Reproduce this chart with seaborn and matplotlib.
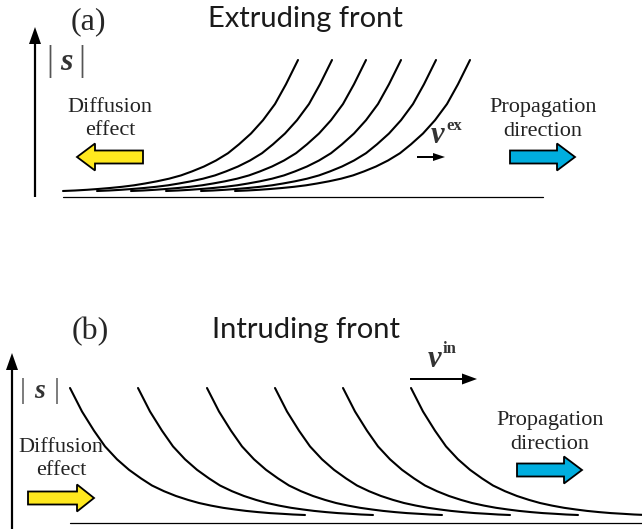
import pandas as pd
import matplotlib.pyplot as plt
from matplotlib.patches import FancyArrow
import seaborn as sns

# profile shape of |s| along x (pixel offsets from the front start)
profile_dx = [0, 12, 24, 35, 47, 59, 71, 82, 94, 106, 118, 129, 141, 153, 165, 176, 188, 200, 212, 223, 235]
extrude_h = [0, 0.5, 1.2, 2.0, 3.0, 4.2, 5.7, 7.5, 9.7, 12.3, 15.6, 19.6, 24.5, 30.5, 37.8, 46.7, 57.5, 70.8, 87.0, 106.8, 131.0]
intrude_h = [127, 103.5, 84.3, 68.6, 55.7, 45.2, 36.6, 29.5, 23.8, 19.0, 15.1, 12.0, 9.4, 7.2, 5.5, 4.1, 2.9, 1.9, 1.2, 0.5, 0]

# start positions of the successive fronts
fronts_a = [63, 97, 131, 166, 201, 235]
fronts_b = [70, 138, 207, 275, 343, 411]

rows = []
for i, x0 in enumerate(fronts_a):
    for dx, h in zip(profile_dx, extrude_h):
        rows.append({'panel': 'a', 'front': i, 'x': x0 + dx, 'y': 191 - h})
for i, x0 in enumerate(fronts_b):
    for dx, h in zip(profile_dx, intrude_h):
        rows.append({'panel': 'b', 'front': i, 'x': x0 + dx, 'y': 515 - h})
df = pd.DataFrame(rows)

sns.set_style('white')
plt.rcParams['font.family'] = ['Liberation Serif', 'DejaVu Serif']

fig = plt.figure(figsize=(6.42, 5.29), dpi=100)
ax = fig.add_axes([0, 0, 1, 1])
ax.set_xlim(0, 642)
ax.set_ylim(529, 0)
ax.axis('off')

sns.lineplot(data=df[df.panel == 'a'], x='x', y='y', units='front', estimator=None,
             sort=False, color='black', lw=1.5, ax=ax)
sns.lineplot(data=df[df.panel == 'b'], x='x', y='y', units='front', estimator=None,
             sort=False, color='black', lw=1.5, ax=ax)

# base lines
ax.plot([63, 543], [197, 197], color='black', lw=0.9)
ax.plot([70, 642], [523, 523], color='black', lw=0.9)


def arrow(x, y, dx, w, hw, hl, fc, ec='black', lw=0.0, vertical=False):
    if vertical:
        a = FancyArrow(x, y, 0, dx, width=w, head_width=hw, head_length=hl,
                       length_includes_head=True, fc=fc, ec=ec, lw=lw)
    else:
        a = FancyArrow(x, y, dx, 0, width=w, head_width=hw, head_length=hl,
                       length_includes_head=True, fc=fc, ec=ec, lw=lw)
    ax.add_patch(a)


# |s| axes
arrow(35, 197, -170, 2.2, 12, 17, 'black', vertical=True)
arrow(12, 529, -176, 2.2, 12, 17, 'black', vertical=True)

yellow = '#FFE81E'
blue = '#00AEDF'
# block arrows
arrow(143, 157, -66, 13, 27, 18, yellow, lw=1.3)
arrow(510, 157, 65, 13, 27, 18, blue, lw=1.3)
arrow(28, 498, 66, 13, 27, 17, yellow, lw=1.3)
arrow(517, 470, 65, 13, 27, 18, blue, lw=1.3)

# velocity arrows
arrow(417, 157, 28, 2.0, 8, 12, 'black')
arrow(410, 379, 67, 2.0, 11, 15, 'black')

# titles
ax.text(88, 29, '(a)', fontsize=23, ha='center', va='baseline')
ax.text(90, 339, '(b)', fontsize=23, ha='center', va='baseline')
ax.text(305, 27, 'Extruding front', fontsize=21, family=['Lato', 'DejaVu Sans'],
        ha='center', va='baseline', color='#1a1a1a')
ax.text(306, 338, 'Intruding front', fontsize=21, family=['Lato', 'DejaVu Sans'],
        ha='center', va='baseline', color='#1a1a1a')

# |s| labels
grey = '#333333'
for xb, xs, yb, fb, fs in [(50, 66, 70, 25, 23), (23, 40, 398, 21, 20)]:
    ax.text(xb, yb, '|', fontsize=fb, ha='center', va='baseline', color='#555555')
    ax.text(xb + 2 * (xs - xb), yb, '|', fontsize=fb, ha='center', va='baseline', color='#555555')
    ax.text(xs, yb, 's', fontsize=fs, ha='center', va='baseline', color=grey,
            style='italic', weight='bold')

# velocities
ax.text(437, 143, 'v', fontsize=22, style='italic', weight='bold', ha='center',
        va='baseline', color=grey)
ax.text(454, 130, 'ex', fontsize=12, weight='bold', ha='center', va='baseline', color=grey)
ax.text(434, 367, 'v', fontsize=22, style='italic', weight='bold', ha='center',
        va='baseline', color=grey)
ax.text(450, 353, 'in', fontsize=12, weight='bold', ha='center', va='baseline', color=grey)

# effect labels
for x, y1, y2 in [(110, 112, 135), (61, 452, 475)]:
    ax.text(x, y1, 'Diffusion', fontsize=16, ha='center', va='baseline', color='#222222')
    ax.text(x, y2, 'effect', fontsize=16, ha='center', va='baseline', color='#222222')
for x, y1, y2 in [(543, 112, 136), (550, 425, 449)]:
    ax.text(x, y1, 'Propagation', fontsize=16, ha='center', va='baseline', color='#222222')
    ax.text(x, y2, 'direction', fontsize=16, ha='center', va='baseline', color='#222222')

plt.savefig('out.png', dpi=100)
